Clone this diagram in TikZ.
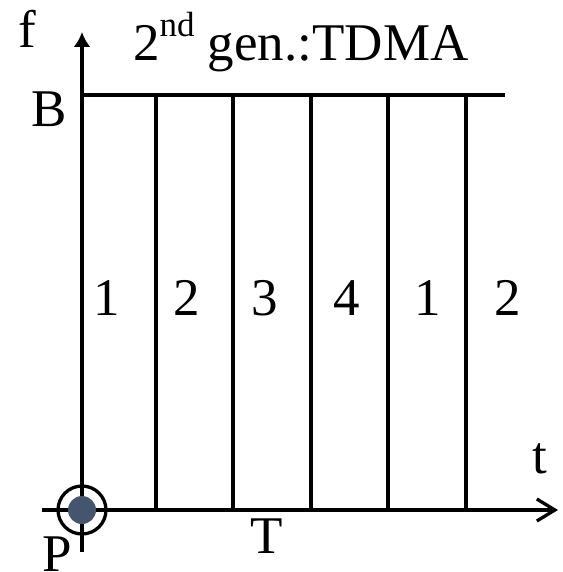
\documentclass[tikz,border=0pt]{standalone}
\usepackage{fontspec}
\setmainfont{Liberation Serif}
\usetikzlibrary{arrows.meta}
\definecolor{dotfill}{RGB}{70,85,110}
\begin{document}
\begin{tikzpicture}[x=1pt,y=-1pt,
  rule/.style={line width=3.3pt},
  lbl/.style={font=\fontsize{53}{53}\selectfont, inner sep=0pt, anchor=base}]
\useasboundingbox (0,0) rectangle (562,572);
% axes
\coordinate (o) at (82,510);
\coordinate (ytop) at (82,32);
\coordinate (ybot) at (82,552);
\coordinate (xl) at (42,510);
\coordinate (xr) at (558,510);
\draw[rule,-{Latex[length=15pt,width=17pt]}] (ybot) -- (ytop);
\draw[rule,-{Straight Barb[length=18pt,width=22pt]}] (xl) -- (xr);
% band limit B
\coordinate (b0) at (82,95);
\coordinate (b1) at (505,95);
\draw[rule] (b0) -- (b1);
% slot boundaries
\foreach \i/\x in {1/156,2/233,3/311,4/388,5/466}{
  \coordinate (s\i t) at (\x,95);
  \coordinate (s\i b) at (\x,510);
  \draw[rule] (s\i t) -- (s\i b);
}
% origin marker
\node[circle, draw, line width=3.3pt, minimum size=48pt, inner sep=0pt] (ring) at (o) {};
\node[circle, fill=dotfill, minimum size=28pt, inner sep=0pt] (dot) at (o) {};
% slot numbers
\foreach \n/\x/\t in {a/107/1,b/187/2,c/265/3,d/347/4,e/428/1,f/508/2}{
  \node[lbl] (slot\n) at (\x,315) {\t};
}
% labels
\node[lbl] (lf) at (27,48) {f};
\node[lbl] (lt) at (540,473) {t};
\node[lbl] (lB) at (49,127) {B};
\node[lbl] (lT) at (267,553) {T};
\node[lbl] (lP) at (57,571) {P};
\node[lbl, anchor=base west] (title) at (133,61)
  {2\raisebox{24pt}{\fontsize{35}{35}\selectfont nd} gen.:TDMA};
\end{tikzpicture}
\end{document}
